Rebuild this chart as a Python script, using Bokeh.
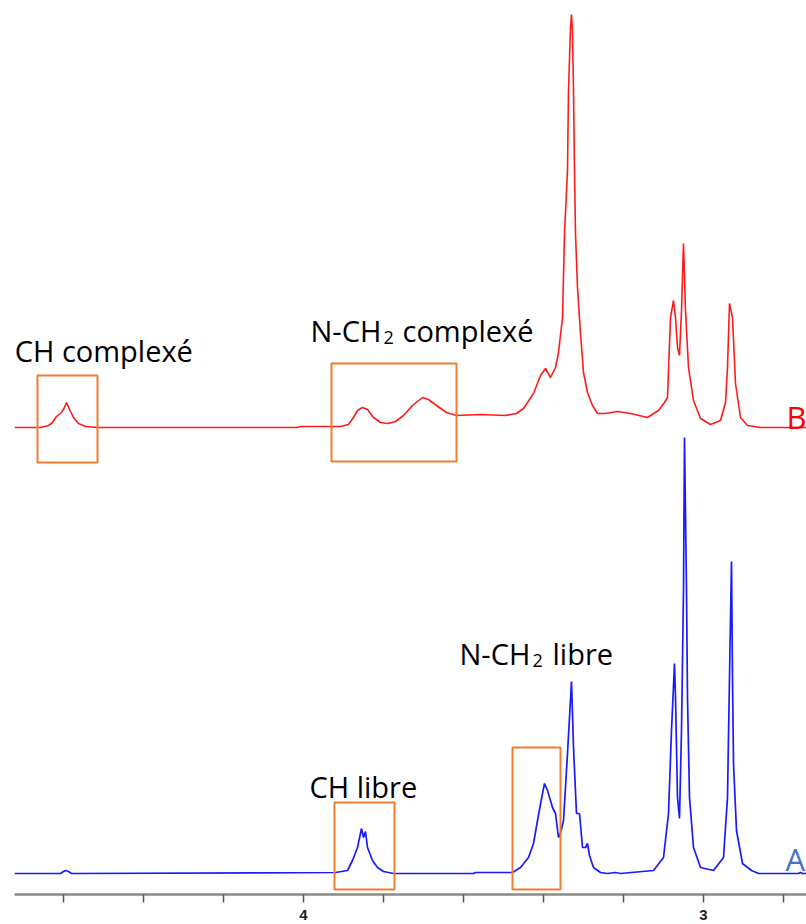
from bokeh.plotting import figure
from bokeh.models import Range1d, FixedTicker, LinearAxis
from bokeh.core.properties import value
from bokeh.embed import file_html
from bokeh.resources import INLINE

# ---- Spectrum B (complexed, red): chemical shift (ppm) and intensity ----
red_ppm = [4.7225, 4.6575, 4.6375, 4.6275, 4.6175, 4.605, 4.5975, 4.5925, 4.585, 4.575,
           4.5625, 4.545, 4.515, 4.015, 4.0075, 3.9075, 3.8875, 3.875, 3.865, 3.8525,
           3.84, 3.825, 3.8075, 3.79, 3.77, 3.75, 3.7275, 3.7025, 3.6875, 3.6675,
           3.6425, 3.6175, 3.5575, 3.495, 3.4675, 3.45, 3.425, 3.4075, 3.395, 3.3825,
           3.37, 3.3625, 3.3525, 3.3475, 3.34, 3.3375, 3.3325, 3.33, 3.3275, 3.325,
           3.3225, 3.32, 3.315, 3.3075, 3.3, 3.29, 3.2775, 3.265, 3.245, 3.215,
           3.1825, 3.14, 3.1125, 3.0975, 3.09, 3.0825, 3.075, 3.07, 3.065, 3.06,
           3.055, 3.05, 3.045, 3.0375, 3.025, 3.0075, 2.9825, 2.9575, 2.945, 2.94,
           2.935, 2.9275, 2.92, 2.9075, 2.89, 2.8575, 2.7425]
red_int = [0, 0, 2, 5, 11, 15, 20, 25, 18, 10,
           4, 1, 0, 0, 1, 1, 3, 10, 17, 20,
           18, 10, 5, 4, 6, 12, 22, 30, 28, 22,
           15, 12, 13, 12, 14, 19, 34, 52, 59, 50,
           60, 75, 110, 194, 257, 337, 400, 413, 395, 337,
           257, 194, 140, 94, 55, 35, 22, 14, 14, 16,
           14, 10, 17, 25, 30, 110, 127, 110, 80, 72,
           117, 184, 117, 60, 27, 9, 3, 7, 25, 60,
           124, 110, 44, 10, 2, 0, 0]

# ---- Spectrum A (free ligand, blue) ----
blue_ppm = [4.7225, 4.6075, 4.6, 4.595, 4.5875, 4.58, 3.92, 3.89, 3.8775, 3.865,
            3.855, 3.85, 3.845, 3.84, 3.8275, 3.815, 3.8, 3.775, 3.575, 3.57,
            3.4775, 3.4575, 3.4375, 3.425, 3.415, 3.4025, 3.3975, 3.39, 3.3775, 3.37,
            3.3625, 3.3575, 3.35, 3.34, 3.33, 3.325, 3.3175, 3.31, 3.3025, 3.295,
            3.29, 3.285, 3.275, 3.2575, 3.24, 3.22, 3.2075, 3.125, 3.1, 3.0875,
            3.08, 3.0725, 3.07, 3.065, 3.06, 3.055, 3.05, 3.0475, 3.0425, 3.04,
            3.035, 3.025, 3.0075, 2.975, 2.95, 2.94, 2.935, 2.93, 2.9275, 2.925,
            2.9175, 2.9025, 2.88, 2.8625, 2.7625, 2.7575, 2.7525, 2.7425]
blue_int = [0, 0, 2, 3, 2, 0, 1, 3, 13, 26,
            45, 36, 42, 26, 13, 6, 2, 0, 0, 1,
            1, 6, 16, 30, 53, 80, 90, 83, 66, 60,
            36, 40, 53, 120, 192, 126, 60, 60, 26, 26,
            30, 18, 6, 1, 0, 1, 0, 3, 16, 60,
            143, 210, 176, 76, 55, 143, 283, 436, 283, 176,
            76, 26, 6, 3, 16, 76, 196, 312, 196, 110,
            43, 10, 3, 0, 0, 1, 0, 0]

# vertical offsets of the two stacked spectra
red_offset = 467
blue_offset = 21

# axis ticks
major_ticks = [4, 3]
minor_ticks = [4.6, 4.4, 4.2, 3.8, 3.6, 3.4, 3.2, 2.8]

# highlighted regions (ppm left, ppm right, bottom, top)
boxes = [
    (4.665, 4.515, 432, 519),
    (3.93, 3.6175, 433, 531),
    (3.9225, 3.7725, 5, 92),
    (3.4775, 3.3575, 5, 147),
]

p = figure(width=806, height=924, output_backend="svg", toolbar_location=None,
           x_range=Range1d(4.7225, 2.7425), y_range=Range1d(0, 886),
           min_border_left=14, min_border_right=0, min_border_top=8, min_border_bottom=30,
           x_axis_location=None, y_axis_location=None)
p.outline_line_color = None
p.xgrid.visible = False
p.ygrid.visible = False
p.background_fill_color = "white"
p.border_fill_color = "white"

ax = LinearAxis(ticker=FixedTicker(ticks=major_ticks, minor_ticks=minor_ticks))
ax.axis_line_color = "#8a8a8a"
ax.axis_line_width = 2.5
ax.major_tick_line_color = "#555555"
ax.minor_tick_line_color = "#555555"
ax.major_tick_line_width = 1.5
ax.minor_tick_line_width = 1.5
ax.major_tick_in = 0
ax.major_tick_out = 8
ax.minor_tick_in = 0
ax.minor_tick_out = 8
ax.major_label_standoff = 7
ax.major_label_text_font = "Liberation Sans"
ax.major_label_text_font_style = "bold"
ax.major_label_text_font_size = "15px"
ax.major_label_text_color = "#222222"
p.add_layout(ax, "below")

p.line(red_ppm, [v + red_offset for v in red_int], line_color="#ff1a1a", line_width=1.6)
p.line(blue_ppm, [v + blue_offset for v in blue_int], line_color="#1a1aff", line_width=1.7)

for (l, r, b, t) in boxes:
    p.quad(left=l, right=r, bottom=b, top=t, fill_color=None, line_color="#ED7D31", line_width=2)

FONT = value("Open Sans")
def label(x, y, s, size="29px", color="black"):
    p.text(x=[x], y=[y], text=[s], text_font=FONT, text_font_size=size,
           text_color=color, text_baseline="alphabetic", text_align="left")

label(4.722, 544, "CH complexé")
label(3.9825, 564, "N-CH")
label(3.8, 557, "2", size="18px")
label(3.7525, 564, "complexé")
label(3.985, 108, "CH libre")
label(3.61, 241, "N-CH")
label(3.4275, 234, "2", size="18px")
label(3.3775, 241, "libre")
label(2.7925, 478, "B", size="31px", color="#ff0000")
label(2.795, 36, "A", size="31px", color="#4472C4")

open("out.html", "w").write(file_html(p, INLINE))
